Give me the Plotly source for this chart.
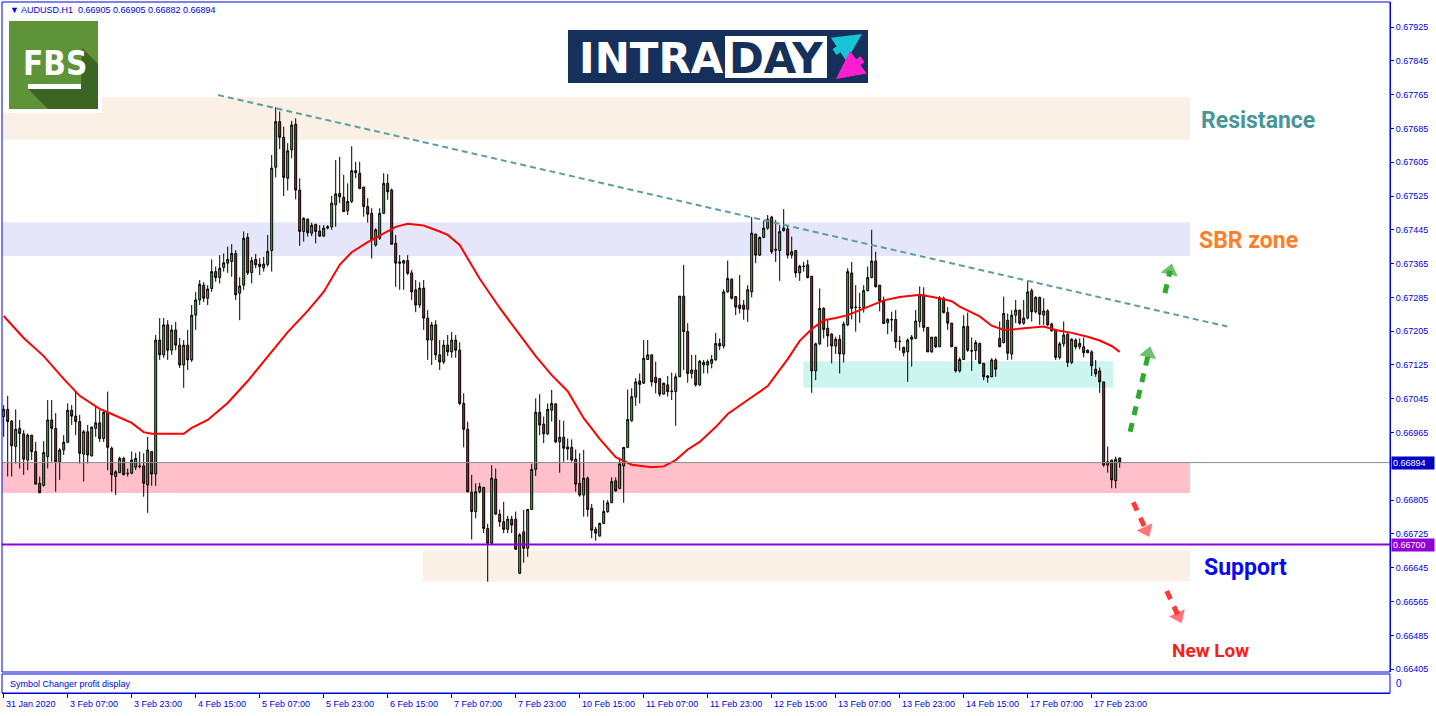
import plotly.graph_objects as go

BLUE = '#0000dd'
BULL = '#1ed21e'
BEAR = '#e81010'
FONT = 'Liberation Sans, Arial, sans-serif'
BOLD_FONT = 'Roboto, Liberation Sans, sans-serif'

# pixel frame of the terminal window: the plot area covers the main chart
# plus the thin indicator strip under it
LEFT, RIGHT, TOP, BOTTOM = 2, 1390, 2, 693
MAIN_BOTTOM = 672


def px(x):
    return (x - LEFT) / (RIGHT - LEFT)


def py(y):
    return (BOTTOM - y) / (BOTTOM - TOP)


# ---- AUDUSD H1 candles, bar 0 = 31 Jan 15:00 ----
bar_open = [
    0.67003, 0.67020, 0.66992, 0.66932, 0.66975, 0.66962, 0.66900, 0.66959, 0.66920, 0.66845,
    0.66840, 0.66908, 0.66995, 0.66975, 0.66896, 0.66924, 0.66942, 0.67018, 0.67004, 0.66991,
    0.66914, 0.66967, 0.66910, 0.66975, 0.66988, 0.66951, 0.67013, 0.66928, 0.66861, 0.66870,
    0.66904, 0.66869, 0.66869, 0.66883, 0.66886, 0.66886, 0.66841, 0.66920, 0.66867, 0.67184,
    0.67149, 0.67220, 0.67160, 0.67208, 0.67172, 0.67125, 0.67172, 0.67137, 0.67243, 0.67279,
    0.67314, 0.67283, 0.67306, 0.67346, 0.67332, 0.67356, 0.67366, 0.67370, 0.67389, 0.67295,
    0.67314, 0.67427, 0.67344, 0.67375, 0.67364, 0.67355, 0.67363, 0.67396, 0.67593, 0.67701,
    0.67664, 0.67567, 0.67634, 0.67695, 0.67539, 0.67441, 0.67470, 0.67437, 0.67458, 0.67442,
    0.67430, 0.67449, 0.67452, 0.67504, 0.67531, 0.67522, 0.67490, 0.67512, 0.67585, 0.67579,
    0.67546, 0.67500, 0.67484, 0.67409, 0.67425, 0.67484, 0.67555, 0.67539, 0.67413, 0.67369,
    0.67366, 0.67372, 0.67343, 0.67303, 0.67267, 0.67307, 0.67236, 0.67184, 0.67220, 0.67149,
    0.67132, 0.67172, 0.67156, 0.67184, 0.67160, 0.67034, 0.66973, 0.66824, 0.66778, 0.66825,
    0.66835, 0.66738, 0.66703, 0.66855, 0.66772, 0.66754, 0.66736, 0.66760, 0.66760, 0.66632,
    0.66730, 0.66691, 0.66783, 0.66878, 0.67013, 0.66985, 0.66962, 0.67018, 0.67033, 0.66943,
    0.66954, 0.66926, 0.66930, 0.66902, 0.66845, 0.66817, 0.66857, 0.66786, 0.66736, 0.66720,
    0.66750, 0.66778, 0.66799, 0.66851, 0.66833, 0.66886, 0.66930, 0.66993, 0.67049, 0.67087,
    0.67082, 0.67138, 0.67149, 0.67096, 0.67093, 0.67056, 0.67078, 0.67062, 0.67062, 0.67097,
    0.67288, 0.67204, 0.67105, 0.67113, 0.67078, 0.67125, 0.67125, 0.67129, 0.67137, 0.67176,
    0.67170, 0.67298, 0.67328, 0.67287, 0.67267, 0.67267, 0.67257, 0.67298, 0.67435, 0.67385,
    0.67427, 0.67449, 0.67475, 0.67399, 0.67396, 0.67443, 0.67447, 0.67385, 0.67396, 0.67343,
    0.67359, 0.67362, 0.67335, 0.67111, 0.67175, 0.67259, 0.67212, 0.67198, 0.67170, 0.67186,
    0.67151, 0.67220, 0.67343, 0.67261, 0.67261, 0.67261, 0.67301, 0.67332, 0.67371, 0.67314,
    0.67277, 0.67225, 0.67233, 0.67233, 0.67181, 0.67167, 0.67156, 0.67186, 0.67188, 0.67228,
    0.67291, 0.67214, 0.67156, 0.67191, 0.67168, 0.67283, 0.67249, 0.67224, 0.67167, 0.67111,
    0.67138, 0.67216, 0.67159, 0.67159, 0.67176, 0.67129, 0.67099, 0.67097, 0.67137, 0.67188,
    0.67178, 0.67231, 0.67151, 0.67243, 0.67255, 0.67224, 0.67236, 0.67301, 0.67251, 0.67285,
    0.67243, 0.67253, 0.67222, 0.67208, 0.67143, 0.67175, 0.67198, 0.67131, 0.67184, 0.67168,
    0.67168, 0.67154, 0.67156, 0.67115, 0.67111, 0.67085, 0.66888, 0.66900, 0.66851, 0.66905,
]
bar_high = [
    0.67030, 0.67052, 0.66995, 0.67020, 0.66995, 0.66971, 0.66963, 0.66959, 0.66943, 0.66861,
    0.66945, 0.67042, 0.67042, 0.67011, 0.66928, 0.66959, 0.67034, 0.67030, 0.67062, 0.67007,
    0.66971, 0.66983, 0.66979, 0.67026, 0.67018, 0.67014, 0.67062, 0.66932, 0.66876, 0.66908,
    0.66908, 0.66880, 0.66920, 0.66917, 0.66920, 0.66916, 0.66955, 0.66920, 0.67196, 0.67236,
    0.67236, 0.67231, 0.67220, 0.67227, 0.67189, 0.67184, 0.67208, 0.67267, 0.67298, 0.67326,
    0.67321, 0.67314, 0.67375, 0.67358, 0.67385, 0.67389, 0.67405, 0.67411, 0.67397, 0.67333,
    0.67441, 0.67437, 0.67381, 0.67388, 0.67378, 0.67381, 0.67433, 0.67622, 0.67735, 0.67725,
    0.67689, 0.67650, 0.67703, 0.67709, 0.67567, 0.67475, 0.67472, 0.67462, 0.67459, 0.67456,
    0.67456, 0.67456, 0.67525, 0.67610, 0.67618, 0.67575, 0.67555, 0.67643, 0.67606, 0.67606,
    0.67547, 0.67520, 0.67496, 0.67449, 0.67496, 0.67579, 0.67577, 0.67543, 0.67433, 0.67385,
    0.67374, 0.67385, 0.67350, 0.67326, 0.67321, 0.67326, 0.67255, 0.67227, 0.67231, 0.67184,
    0.67184, 0.67196, 0.67203, 0.67196, 0.67179, 0.67058, 0.66991, 0.66865, 0.66845, 0.66846,
    0.66837, 0.66749, 0.66888, 0.66880, 0.66783, 0.66801, 0.66768, 0.66768, 0.66778, 0.66727,
    0.66782, 0.66783, 0.66891, 0.67046, 0.67056, 0.67003, 0.67034, 0.67066, 0.67034, 0.66995,
    0.66993, 0.66951, 0.66949, 0.66925, 0.66916, 0.66924, 0.66861, 0.66796, 0.66742, 0.66752,
    0.66805, 0.66805, 0.66859, 0.66859, 0.66904, 0.66930, 0.67067, 0.67070, 0.67094, 0.67105,
    0.67184, 0.67184, 0.67149, 0.67133, 0.67093, 0.67083, 0.67099, 0.67107, 0.67105, 0.67288,
    0.67362, 0.67224, 0.67149, 0.67149, 0.67137, 0.67137, 0.67138, 0.67149, 0.67201, 0.67188,
    0.67304, 0.67372, 0.67330, 0.67287, 0.67338, 0.67279, 0.67314, 0.67475, 0.67435, 0.67429,
    0.67467, 0.67480, 0.67478, 0.67468, 0.67456, 0.67494, 0.67456, 0.67429, 0.67397, 0.67362,
    0.67369, 0.67374, 0.67335, 0.67178, 0.67306, 0.67262, 0.67231, 0.67201, 0.67192, 0.67196,
    0.67228, 0.67354, 0.67369, 0.67314, 0.67296, 0.67314, 0.67358, 0.67445, 0.67393, 0.67314,
    0.67287, 0.67236, 0.67251, 0.67255, 0.67194, 0.67168, 0.67188, 0.67196, 0.67255, 0.67311,
    0.67309, 0.67214, 0.67191, 0.67192, 0.67288, 0.67287, 0.67262, 0.67225, 0.67168, 0.67143,
    0.67243, 0.67249, 0.67190, 0.67184, 0.67178, 0.67130, 0.67101, 0.67141, 0.67141, 0.67228,
    0.67287, 0.67247, 0.67255, 0.67279, 0.67255, 0.67279, 0.67324, 0.67306, 0.67288, 0.67287,
    0.67283, 0.67257, 0.67225, 0.67208, 0.67180, 0.67228, 0.67200, 0.67188, 0.67188, 0.67188,
    0.67190, 0.67162, 0.67160, 0.67137, 0.67119, 0.67085, 0.66932, 0.66900, 0.66908, 0.66905,
]
bar_low = [
    0.66955, 0.66861, 0.66861, 0.66892, 0.66880, 0.66865, 0.66876, 0.66900, 0.66843, 0.66821,
    0.66837, 0.66880, 0.66896, 0.66825, 0.66853, 0.66912, 0.66940, 0.66983, 0.66959, 0.66892,
    0.66849, 0.66892, 0.66908, 0.66955, 0.66943, 0.66943, 0.66876, 0.66825, 0.66817, 0.66870,
    0.66865, 0.66861, 0.66866, 0.66876, 0.66880, 0.66813, 0.66775, 0.66839, 0.66839, 0.67137,
    0.67142, 0.67137, 0.67149, 0.67160, 0.67118, 0.67071, 0.67113, 0.67132, 0.67208, 0.67267,
    0.67274, 0.67267, 0.67298, 0.67322, 0.67318, 0.67346, 0.67343, 0.67334, 0.67279, 0.67231,
    0.67303, 0.67338, 0.67318, 0.67354, 0.67338, 0.67346, 0.67358, 0.67346, 0.67569, 0.67636,
    0.67525, 0.67538, 0.67614, 0.67517, 0.67407, 0.67417, 0.67429, 0.67430, 0.67413, 0.67429,
    0.67429, 0.67446, 0.67445, 0.67452, 0.67508, 0.67488, 0.67480, 0.67508, 0.67567, 0.67541,
    0.67476, 0.67462, 0.67377, 0.67405, 0.67421, 0.67482, 0.67516, 0.67409, 0.67310, 0.67303,
    0.67303, 0.67338, 0.67279, 0.67250, 0.67260, 0.67208, 0.67137, 0.67125, 0.67137, 0.67113,
    0.67127, 0.67146, 0.67142, 0.67142, 0.67030, 0.66930, 0.66823, 0.66712, 0.66762, 0.66821,
    0.66727, 0.66612, 0.66701, 0.66770, 0.66742, 0.66727, 0.66727, 0.66727, 0.66687, 0.66630,
    0.66657, 0.66671, 0.66782, 0.66862, 0.66959, 0.66940, 0.66959, 0.66991, 0.66940, 0.66870,
    0.66896, 0.66900, 0.66896, 0.66825, 0.66813, 0.66766, 0.66766, 0.66715, 0.66709, 0.66719,
    0.66749, 0.66775, 0.66798, 0.66825, 0.66831, 0.66799, 0.66928, 0.66991, 0.67028, 0.67034,
    0.67080, 0.67138, 0.67074, 0.67058, 0.67050, 0.67056, 0.67050, 0.67042, 0.66981, 0.67097,
    0.67113, 0.67083, 0.67093, 0.67074, 0.67075, 0.67105, 0.67105, 0.67117, 0.67135, 0.67160,
    0.67164, 0.67296, 0.67280, 0.67243, 0.67247, 0.67232, 0.67227, 0.67285, 0.67366, 0.67383,
    0.67425, 0.67445, 0.67388, 0.67369, 0.67324, 0.67441, 0.67377, 0.67377, 0.67332, 0.67324,
    0.67346, 0.67330, 0.67059, 0.67089, 0.67172, 0.67188, 0.67168, 0.67129, 0.67151, 0.67105,
    0.67131, 0.67217, 0.67233, 0.67204, 0.67225, 0.67249, 0.67299, 0.67330, 0.67309, 0.67252,
    0.67222, 0.67198, 0.67204, 0.67165, 0.67159, 0.67145, 0.67085, 0.67121, 0.67186, 0.67214,
    0.67204, 0.67156, 0.67154, 0.67165, 0.67168, 0.67247, 0.67208, 0.67168, 0.67107, 0.67107,
    0.67137, 0.67156, 0.67111, 0.67137, 0.67127, 0.67089, 0.67083, 0.67096, 0.67097, 0.67168,
    0.67176, 0.67137, 0.67138, 0.67224, 0.67220, 0.67220, 0.67233, 0.67228, 0.67247, 0.67220,
    0.67220, 0.67217, 0.67204, 0.67137, 0.67138, 0.67168, 0.67120, 0.67127, 0.67162, 0.67162,
    0.67143, 0.67153, 0.67099, 0.67097, 0.67059, 0.66884, 0.66870, 0.66833, 0.66833, 0.66882,
]
bar_close = [
    0.67020, 0.66991, 0.66934, 0.66973, 0.66963, 0.66902, 0.66959, 0.66920, 0.66843, 0.66823,
    0.66918, 0.66995, 0.66975, 0.66896, 0.66924, 0.66942, 0.67018, 0.67004, 0.66991, 0.66916,
    0.66967, 0.66912, 0.66978, 0.66988, 0.66951, 0.67013, 0.66930, 0.66865, 0.66872, 0.66904,
    0.66865, 0.66868, 0.66900, 0.66904, 0.66885, 0.66845, 0.66924, 0.66867, 0.67184, 0.67149,
    0.67220, 0.67160, 0.67208, 0.67172, 0.67125, 0.67172, 0.67137, 0.67243, 0.67279, 0.67316,
    0.67283, 0.67305, 0.67346, 0.67332, 0.67354, 0.67367, 0.67375, 0.67389, 0.67291, 0.67312,
    0.67425, 0.67343, 0.67372, 0.67362, 0.67358, 0.67364, 0.67394, 0.67591, 0.67701, 0.67664,
    0.67569, 0.67632, 0.67693, 0.67539, 0.67441, 0.67472, 0.67438, 0.67456, 0.67441, 0.67430,
    0.67449, 0.67452, 0.67508, 0.67530, 0.67523, 0.67488, 0.67512, 0.67585, 0.67580, 0.67543,
    0.67500, 0.67482, 0.67421, 0.67445, 0.67484, 0.67555, 0.67535, 0.67411, 0.67366, 0.67366,
    0.67372, 0.67342, 0.67298, 0.67267, 0.67307, 0.67236, 0.67184, 0.67220, 0.67149, 0.67132,
    0.67172, 0.67156, 0.67184, 0.67160, 0.67034, 0.66973, 0.66825, 0.66778, 0.66825, 0.66837,
    0.66738, 0.66703, 0.66857, 0.66772, 0.66754, 0.66736, 0.66760, 0.66746, 0.66689, 0.66723,
    0.66691, 0.66783, 0.66878, 0.67013, 0.66983, 0.66962, 0.67020, 0.67034, 0.66943, 0.66954,
    0.66928, 0.66931, 0.66900, 0.66843, 0.66817, 0.66857, 0.66783, 0.66734, 0.66727, 0.66750,
    0.66778, 0.66799, 0.66849, 0.66827, 0.66891, 0.66930, 0.66996, 0.67050, 0.67085, 0.67079,
    0.67141, 0.67149, 0.67085, 0.67083, 0.67056, 0.67082, 0.67062, 0.67063, 0.67097, 0.67288,
    0.67204, 0.67105, 0.67113, 0.67078, 0.67134, 0.67131, 0.67133, 0.67138, 0.67176, 0.67170,
    0.67298, 0.67330, 0.67283, 0.67262, 0.67259, 0.67257, 0.67303, 0.67437, 0.67385, 0.67427,
    0.67449, 0.67470, 0.67393, 0.67397, 0.67441, 0.67449, 0.67385, 0.67393, 0.67343, 0.67359,
    0.67358, 0.67332, 0.67111, 0.67175, 0.67259, 0.67209, 0.67194, 0.67170, 0.67186, 0.67151,
    0.67222, 0.67346, 0.67259, 0.67262, 0.67261, 0.67301, 0.67332, 0.67371, 0.67310, 0.67277,
    0.67223, 0.67233, 0.67232, 0.67180, 0.67181, 0.67154, 0.67184, 0.67191, 0.67229, 0.67291,
    0.67214, 0.67156, 0.67191, 0.67168, 0.67283, 0.67249, 0.67224, 0.67168, 0.67111, 0.67138,
    0.67216, 0.67160, 0.67158, 0.67178, 0.67129, 0.67097, 0.67096, 0.67137, 0.67115, 0.67168,
    0.67247, 0.67153, 0.67243, 0.67255, 0.67224, 0.67236, 0.67298, 0.67251, 0.67285, 0.67245,
    0.67253, 0.67220, 0.67206, 0.67143, 0.67175, 0.67196, 0.67131, 0.67186, 0.67168, 0.67176,
    0.67154, 0.67160, 0.67123, 0.67104, 0.67085, 0.66888, 0.66896, 0.66853, 0.66902, 0.66894,
]
bars = list(range(len(bar_open)))

# red moving average at these bars
ma_bars = [0, 5, 10, 15, 19, 24, 27, 32, 35, 37, 45, 47, 51, 56, 61, 66, 71, 76, 80, 84,
           87, 91, 95, 98, 101, 105, 109, 111, 114, 119, 124, 129, 133, 137, 141, 145, 149,
           153, 157, 162, 165, 168, 171, 174, 178, 181, 184, 186, 191, 196, 199, 202, 205,
           208, 211, 216, 220, 224, 229, 234, 237, 239, 242, 244, 247, 250, 252, 256, 260,
           263, 267, 271, 274, 277, 279]
ma_values = [0.67241, 0.67189, 0.67146, 0.67092, 0.67052, 0.67021, 0.67009, 0.66988, 0.66966,
             0.66962, 0.66962, 0.66976, 0.66995, 0.67035, 0.67087, 0.67144, 0.67203, 0.67253,
             0.67298, 0.67362, 0.67392, 0.67416, 0.67437, 0.67452, 0.67459, 0.67455, 0.67441,
             0.67433, 0.67409, 0.67329, 0.67260, 0.67198, 0.67146, 0.67101, 0.67063, 0.66999,
             0.66950, 0.66907, 0.66889, 0.66883, 0.66885, 0.66900, 0.66925, 0.66943, 0.66978,
             0.67009, 0.67030, 0.67042, 0.67075, 0.67139, 0.67182, 0.67210, 0.67231, 0.67236,
             0.67243, 0.67263, 0.67278, 0.67286, 0.67291, 0.67283, 0.67276, 0.67263, 0.67249,
             0.67240, 0.67218, 0.67208, 0.67209, 0.67213, 0.67216, 0.67208, 0.67201, 0.67192,
             0.67183, 0.67170, 0.67156]

tick_bars = [0, 16, 32, 48, 64, 80, 96, 112, 128, 144, 160, 176, 192, 208, 224, 240, 256, 272]
tick_labels = ['31 Jan 2020', '3 Feb 07:00', '3 Feb 23:00', '4 Feb 15:00', '5 Feb 07:00',
               '5 Feb 23:00', '6 Feb 15:00', '7 Feb 07:00', '7 Feb 23:00', '10 Feb 15:00',
               '11 Feb 07:00', '11 Feb 23:00', '12 Feb 15:00', '13 Feb 07:00', '13 Feb 23:00',
               '14 Feb 15:00', '17 Feb 07:00', '17 Feb 23:00']
price_ticks = [0.67925, 0.67845, 0.67765, 0.67685, 0.67605, 0.67525, 0.67445, 0.67365,
               0.67285, 0.67205, 0.67125, 0.67045, 0.66965, 0.66805, 0.66725, 0.66645,
               0.66565, 0.66485, 0.66405]

# zones: (first bar, last bar, top price, bottom price)
resistance_zone = (-1, 296.6, 0.67759, 0.67658)
sbr_zone = (-1, 296.6, 0.67463, 0.67383)
pivot_zone = (-1, 296.6, 0.66895, 0.66822)
range_zone = (199.9, 277.4, 0.67134, 0.67071)
support_zone = (104.75, 296.6, 0.66686, 0.66612)

level_price = 0.66700
last_price = 0.66894
trend_line = [(53.6, 0.67764), (305.9, 0.67216)]

# dashed scenario arrows: tail, arrowhead centre
up_arrows = [((281.6, 0.66967), (286.2, 0.67152)), ((290.3, 0.67295), (291.6, 0.67348))]
down_arrows = [((282.4, 0.66800), (285.6, 0.66734)), ((290.75, 0.66590), (293.7, 0.66530))]

x_range = [-0.425, 346.575]
y_range = [0.663983, 0.679842]

fig = go.Figure()

fig.add_trace(go.Candlestick(
    x=bars, open=bar_open, high=bar_high, low=bar_low, close=bar_close,
    increasing=dict(fillcolor=BULL, line=dict(color='black', width=1)),
    decreasing=dict(fillcolor=BEAR, line=dict(color='black', width=1)),
    whiskerwidth=0,
    hoverinfo='skip',
))

fig.add_trace(go.Scatter(
    x=ma_bars, y=ma_values, mode='lines',
    line=dict(color='#ff0000', width=2),
    hoverinfo='skip',
))

for arrows, colour in [(up_arrows, '#2eaa2e'), (down_arrows, '#ff3a3a')]:
    for tail, head in arrows:
        fig.add_trace(go.Scatter(
            x=[tail[0], head[0]], y=[tail[1], head[1]],
            mode='lines+markers',
            line=dict(color=colour, width=5, dash='9px,8px'),
            marker=dict(symbol=['circle', 'triangle-up'], size=[0, 15], color=colour,
                        angleref='previous', line=dict(width=0)),
            hoverinfo='skip',
        ))

shapes = []
for x0, x1, top, bottom, fill in [
    (*resistance_zone, '#faf0e6'),
    (*sbr_zone, '#e6e6fa'),
    (*pivot_zone, '#ffc0cb'),
    (*range_zone, '#cdf5f0'),
    (*support_zone, '#faf0e6'),
]:
    shapes.append(dict(type='rect', xref='x', yref='y', x0=x0, x1=x1, y0=bottom, y1=top,
                       fillcolor=fill, line=dict(width=0), layer='below'))

shapes += [
    dict(type='line', xref='paper', yref='y', x0=0, x1=1, y0=last_price, y1=last_price,
         line=dict(color='#8c8c8c', width=1)),
    dict(type='line', xref='paper', yref='y', x0=0, x1=1, y0=level_price, y1=level_price,
         line=dict(color='#9400d3', width=2)),
    dict(type='line', xref='x', yref='y', x0=trend_line[0][0], y0=trend_line[0][1],
         x1=trend_line[1][0], y1=trend_line[1][1],
         line=dict(color='#5f9ea0', width=2, dash='6px,4px')),
    # window frames
    dict(type='rect', xref='paper', yref='paper', x0=px(LEFT), x1=px(RIGHT),
         y0=py(MAIN_BOTTOM), y1=py(TOP), line=dict(color=BLUE, width=1)),
    dict(type='rect', xref='paper', yref='paper', x0=px(LEFT), x1=px(RIGHT),
         y0=py(BOTTOM), y1=py(674), line=dict(color=BLUE, width=1)),
]


def poly(points):
    return 'M ' + ' L '.join(f'{px(x):.5f},{py(y):.5f}' for x, y in points) + ' Z'


def box(x0, y0, x1, y1, fill):
    return dict(type='rect', xref='paper', yref='paper', x0=px(x0), x1=px(x1),
                y0=py(y1), y1=py(y0), fillcolor=fill, line=dict(width=0), layer='above')


def text_at(x, y, text, size, color, family=FONT, bold=False, anchor='center'):
    return dict(x=px(x), y=py(y), xref='paper', yref='paper', text=text, showarrow=False,
                xanchor=anchor, yanchor='middle',
                font=dict(family=family, size=size, color=color,
                          weight='bold' if bold else 'normal'))


# FBS badge
shapes += [
    box(3, 18, 102, 113, 'white'),
    box(9, 21, 98, 109, '#5f933a'),
    dict(type='path', xref='paper', yref='paper', layer='above', line=dict(width=0),
         fillcolor='#3b6522',
         path=poly([(28, 89), (81, 89), (82, 48), (98, 64), (98, 109), (48, 109)])),
    box(28, 84, 81, 89, 'white'),
]
# INTRADAY banner
shapes += [
    box(568, 30, 868, 83, '#15305b'),
    box(725, 36, 827, 78, 'white'),
]

annotations = [
    text_at(55, 63, 'FBS', 33, 'white',
            family='DejaVu Sans Condensed, Liberation Sans Narrow, Liberation Sans, sans-serif',
            bold=True),
    text_at(651, 58, 'INTRA', 42, 'white', family='DejaVu Sans, sans-serif', bold=True),
    text_at(776, 58, 'DAY', 42, '#15305b', family='DejaVu Sans, sans-serif', bold=True),
    dict(x=px(862), y=py(34), xref='paper', yref='paper', text='', showarrow=True,
         ax=-29, ay=19, arrowhead=2, arrowsize=0.8, arrowwidth=7, arrowcolor='#16c6d6',
         standoff=0),
    dict(x=px(836), y=py(79), xref='paper', yref='paper', text='', showarrow=True,
         ax=28, ay=-21, arrowhead=2, arrowsize=0.8, arrowwidth=7, arrowcolor='#ff1fcf',
         standoff=0),
    text_at(8, 10, '▼ AUDUSD.H1&nbsp; 0.66905 0.66905 0.66882 0.66894', 9, BLUE,
            anchor='left'),
    text_at(8, 684, 'Symbol Changer profit display', 9, BLUE, anchor='left'),
    text_at(1394, 683, '0', 10, BLUE, anchor='left'),
    dict(x=1, y=last_price, xref='paper', yref='y', xanchor='left', yanchor='middle',
         xshift=1, showarrow=False, text='0.66894&nbsp;&nbsp;&nbsp;', bgcolor='#0000c8',
         borderpad=1, font=dict(family=FONT, size=9, color='white')),
    dict(x=1, y=level_price, xref='paper', yref='y', xanchor='left', yanchor='middle',
         xshift=1, showarrow=False, text='0.66700&nbsp;&nbsp;&nbsp;', bgcolor='#9400d3',
         borderpad=1, font=dict(family=FONT, size=9, color='white')),
    text_at(1258, 120, 'Resistance', 23, '#4a9696', family=BOLD_FONT, bold=True),
    text_at(1248, 240, 'SBR zone', 23, '#ff7f27', family=BOLD_FONT, bold=True),
    text_at(1245, 567, 'Support', 23, '#0a0af0', family=BOLD_FONT, bold=True),
    text_at(1210, 650, 'New Low', 19, '#ff1a1a', family=BOLD_FONT, bold=True),
]
for b, t in zip(tick_bars, tick_labels):
    annotations.append(dict(x=b, y=0, xref='x', yref='paper', xanchor='left', yanchor='top',
                            yshift=-4, showarrow=False, text=t,
                            font=dict(family=FONT, size=9, color=BLUE)))

fig.update_layout(
    width=1436, height=716,
    margin=dict(l=LEFT, r=1436 - RIGHT, t=TOP, b=716 - BOTTOM),
    paper_bgcolor='white', plot_bgcolor='white',
    showlegend=False, hovermode=False,
    xaxis=dict(
        range=x_range, anchor='free', position=0,
        showgrid=False, zeroline=False,
        tickvals=tick_bars, ticks='outside', ticklen=4, tickcolor=BLUE,
        showticklabels=False, showline=True, linecolor=BLUE, linewidth=1,
        rangeslider=dict(visible=False),
    ),
    yaxis=dict(
        domain=[py(MAIN_BOTTOM), 1], range=y_range, side='right',
        showgrid=False, zeroline=False,
        tickvals=price_ticks, ticktext=[f'{v:.5f}' for v in price_ticks],
        ticks='outside', ticklen=3, tickcolor=BLUE,
        showline=True, linecolor=BLUE, linewidth=1,
        tickfont=dict(family=FONT, size=9, color=BLUE),
    ),
    shapes=shapes,
    annotations=annotations,
)

fig.write_html("out.html", config={'displayModeBar': False},
               post_script="document.body.style.margin='0';")
